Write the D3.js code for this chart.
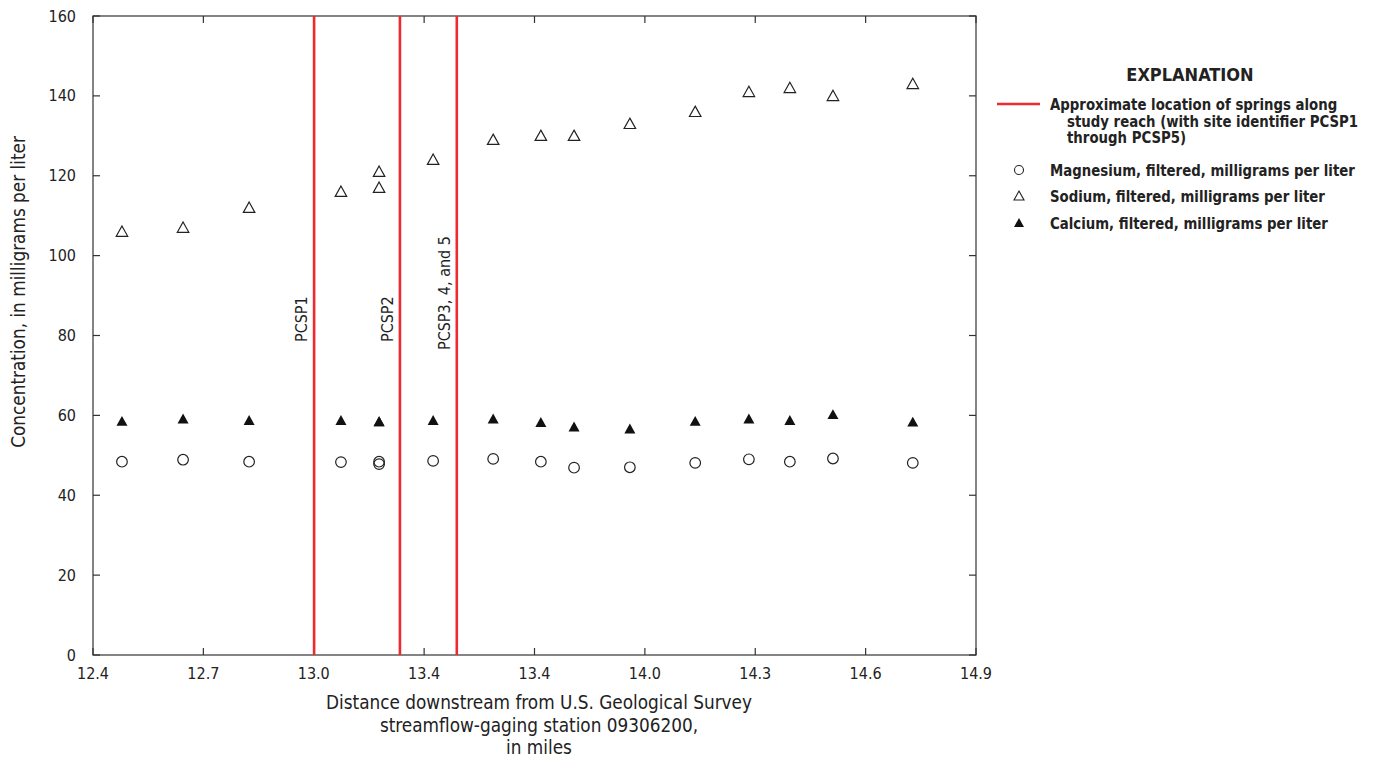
<!DOCTYPE html>
<html>
<head>
<meta charset="utf-8">
<script src="https://cdn.jsdelivr.net/npm/d3@7"></script>
<style>
  html, body { margin: 0; padding: 0; background: #fff; }
  svg { display: block; font-family: "DejaVu Sans Condensed", "Liberation Sans Narrow", sans-serif; }
</style>
</head>
<body>
<svg id="chart" width="1373" height="759"></svg>
<script>
// Sampling sites, distance downstream (miles)
const distance = [12.482, 12.655, 12.842, 13.102, 13.210, 13.210, 13.363, 13.533,
                  13.668, 13.762, 13.920, 14.105, 14.257, 14.373, 14.495, 14.721];
// Concentrations, milligrams per liter
const magnesium = [48.4, 48.9, 48.4, 48.3, 48.4, 47.8, 48.6, 49.1,
                   48.4, 46.9, 47.0, 48.1, 49.0, 48.4, 49.2, 48.1];
const sodium    = [106, 107, 112, 116, 121, 117, 124, 129,
                   130, 130, 133, 136, 141, 142, 140, 143];
const calcium   = [58.5, 59.1, 58.7, 58.7, 58.4, 58.4, 58.7, 59.1,
                   58.2, 57.1, 56.6, 58.5, 59.1, 58.7, 60.2, 58.3];

// Spring locations along the study reach
const springs = [13.026, 13.269, 13.430];
const springLabels = ["PCSP1", "PCSP2", "PCSP3, 4, and 5"];

// Axis ticks
const xTickValues = d3.range(9).map(i => 12.4 + i * 2.5 / 8);
const xTickLabels = ["12.4", "12.7", "13.0", "13.4", "13.4", "14.0", "14.3", "14.6", "14.9"];
const yTickValues = [0, 20, 40, 60, 80, 100, 120, 140, 160];

const svg = d3.select("#chart");
const frame = { left: 93, right: 976, top: 16, bottom: 655 };

const x = d3.scaleLinear().domain([12.4, 14.9]).range([frame.left, frame.right]);
const y = d3.scaleLinear().domain([0, 160]).range([frame.bottom, frame.top]);

const axisColor = "#333";
const red = "#ee2a2e";
const tickLen = 7;

// Plot frame
svg.append("rect")
  .attr("x", frame.left).attr("y", frame.top)
  .attr("width", frame.right - frame.left).attr("height", frame.bottom - frame.top)
  .attr("fill", "none").attr("stroke", axisColor).attr("stroke-width", 1.2);

// Inward ticks on all four sides
const ticks = svg.append("g").attr("stroke", axisColor).attr("stroke-width", 1.2);
xTickValues.forEach(v => {
  ticks.append("line").attr("x1", x(v)).attr("x2", x(v)).attr("y1", frame.bottom).attr("y2", frame.bottom - tickLen);
  ticks.append("line").attr("x1", x(v)).attr("x2", x(v)).attr("y1", frame.top).attr("y2", frame.top + tickLen);
});
yTickValues.forEach(v => {
  ticks.append("line").attr("x1", frame.left).attr("x2", frame.left + tickLen).attr("y1", y(v)).attr("y2", y(v));
  ticks.append("line").attr("x1", frame.right).attr("x2", frame.right - tickLen).attr("y1", y(v)).attr("y2", y(v));
});

// Tick labels
svg.append("g").selectAll("text").data(xTickValues).join("text")
  .attr("x", d => x(d)).attr("y", frame.bottom + 24)
  .attr("text-anchor", "middle").attr("font-size", 16).attr("fill", "#222")
  .text((d, i) => xTickLabels[i]);

svg.append("g").selectAll("text").data(yTickValues).join("text")
  .attr("x", 76).attr("y", d => y(d) + 5.5)
  .attr("text-anchor", "end").attr("font-size", 16).attr("fill", "#222")
  .text(d => d);

// Axis titles
const xTitle = ["Distance downstream from U.S. Geological Survey",
                "streamflow-gaging station 09306200,",
                "in miles"];
svg.append("g").selectAll("text").data(xTitle).join("text")
  .attr("x", 539).attr("y", (d, i) => 709 + i * 22.5)
  .attr("text-anchor", "middle").attr("font-size", 18.8).attr("fill", "#222")
  .text(d => d);

svg.append("text")
  .attr("transform", "translate(25,292) rotate(-90)")
  .attr("text-anchor", "middle").attr("font-size", 18.8).attr("fill", "#222")
  .text("Concentration, in milligrams per liter");

// Spring lines and labels
svg.append("g").selectAll("line").data(springs).join("line")
  .attr("x1", d => x(d)).attr("x2", d => x(d))
  .attr("y1", frame.top).attr("y2", frame.bottom)
  .attr("stroke", red).attr("stroke-width", 2.6);

const labelBottom = [342, 342, 350];
svg.append("g").selectAll("text").data(springs).join("text")
  .attr("transform", (d, i) => `translate(${x(d) - 7},${labelBottom[i]}) rotate(-90)`)
  .attr("text-anchor", "start").attr("font-size", 16).attr("fill", "#222")
  .text((d, i) => springLabels[i]);

// Symbol helpers
const triPath = (cx, cy, s) => {
  const h = s * 0.9;
  return `M${cx},${cy - h * 0.55}L${cx + s / 2},${cy + h * 0.45}L${cx - s / 2},${cy + h * 0.45}Z`;
};

const pts = distance.map((d, i) => ({ d, mg: magnesium[i], na: sodium[i], ca: calcium[i] }));

// Magnesium: open circles
svg.append("g").selectAll("circle").data(pts).join("circle")
  .attr("cx", p => x(p.d)).attr("cy", p => y(p.mg)).attr("r", 5.3)
  .attr("fill", "none").attr("stroke", "#222").attr("stroke-width", 1.2);

// Sodium: open triangles
svg.append("g").selectAll("path").data(pts).join("path")
  .attr("d", p => triPath(x(p.d), y(p.na), 11.5))
  .attr("fill", "none").attr("stroke", "#222").attr("stroke-width", 1.2);

// Calcium: filled triangles
svg.append("g").selectAll("path").data(pts).join("path")
  .attr("d", p => triPath(x(p.d), y(p.ca), 11))
  .attr("fill", "#111");

// Explanation
const leg = svg.append("g").attr("font-weight", "bold").attr("font-size", 16).attr("fill", "#222");
const legText = (tx, ty, str) =>
  leg.append("text").attr("transform", `translate(${tx},${ty}) scale(0.925,1)`).text(str);

leg.append("text").attr("x", 1190).attr("y", 81).attr("text-anchor", "middle")
  .attr("font-size", 18).text("EXPLANATION");
leg.append("line").attr("x1", 997).attr("x2", 1040).attr("y1", 104).attr("y2", 104)
  .attr("stroke", red).attr("stroke-width", 2.6);
legText(1050, 110, "Approximate location of springs along");
legText(1067, 127, "study reach (with site identifier PCSP1");
legText(1067, 143, "through PCSP5)");

leg.append("circle").attr("cx", 1019).attr("cy", 170).attr("r", 4.5)
  .attr("fill", "none").attr("stroke", "#222").attr("stroke-width", 1.1);
legText(1050, 176, "Magnesium, filtered, milligrams per liter");
leg.append("path").attr("d", triPath(1019, 196, 10))
  .attr("fill", "none").attr("stroke", "#222").attr("stroke-width", 1.1);
legText(1050, 202, "Sodium, filtered, milligrams per liter");
leg.append("path").attr("d", triPath(1019, 223, 10)).attr("fill", "#111");
legText(1050, 229, "Calcium, filtered, milligrams per liter");
</script>
</body>
</html>
